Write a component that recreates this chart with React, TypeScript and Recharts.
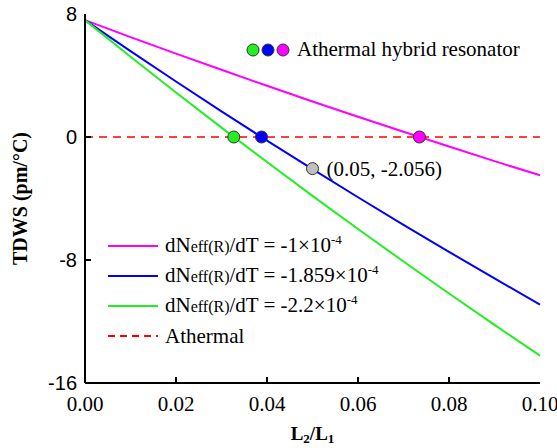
import React from 'react';
import {
  ComposedChart, Line, Scatter, XAxis, YAxis, ReferenceLine, ReferenceDot, Legend, Label, Cell
} from 'recharts';

// L2/L1 sample positions
const ratioValues = [0, 0.01, 0.02, 0.03, 0.04, 0.05, 0.06, 0.07, 0.08, 0.09, 0.1];
// TDWS (pm/°C)
const magentaValues = [7.6, 6.5, 5.42, 4.37, 3.33, 2.31, 1.32, 0.34, -0.62, -1.57, -2.49];
const blueValues = [7.6, 5.59, 3.61, 1.67, -0.23, -2.09, -3.92, -5.71, -7.47, -9.2, -10.9];
const greenValues = [7.6, 5.22, 2.89, 0.61, -1.63, -3.83, -5.98, -8.1, -10.18, -12.22, -14.22];

const xTicks = [0, 0.02, 0.04, 0.06, 0.08, 0.1];
const yTicks = [-16, -8, 0, 8];

const MAGENTA = '#ff00ff';
const BLUE = '#0000ff';
const GREEN = '#22ee22';
const RED = '#ff0000';

// athermal points where each curve crosses zero
const athermalX = [0.0327, 0.0388, 0.0735];
const athermalY = [0, 0, 0];
const athermalColors = [GREEN, BLUE, MAGENTA];

const markedX = 0.05;
const markedY = -2.056;

const legendRows = [
  { color: MAGENTA, value: '-1', dashed: false },
  { color: BLUE, value: '-1.859', dashed: false },
  { color: GREEN, value: '-2.2', dashed: false },
  { color: RED, value: 'Athermal', dashed: true },
];

const data = ratioValues.map((x, i) => ({
  x,
  magenta: magentaValues[i],
  blue: blueValues[i],
  green: greenValues[i],
}));

const athermalData = athermalX.map((x, i) => ({ x, y: athermalY[i] }));

const SERIF = '"Liberation Serif", "Times New Roman", serif';
const SANS = '"Liberation Sans", Arial, sans-serif';

const XTick = (props: any) => {
  const { x, y, payload } = props;
  const v = payload.value;
  const inner = v > 0.001 && v < 0.099;
  return (
    <g>
      {inner && <line x1={x} x2={x} y1={y} y2={y - 6} stroke="#000" strokeWidth={2} />}
      <text x={x} y={y + 28} textAnchor="middle" fontFamily={SERIF} fontSize={21} fill="#000">
        {v.toFixed(2)}
      </text>
    </g>
  );
};

const YTick = (props: any) => {
  const { x, y, payload } = props;
  const v = payload.value;
  const inner = v > -16 && v < 8;
  return (
    <g>
      {inner && <line x1={x} x2={x + 6} y1={y} y2={y} stroke="#000" strokeWidth={2} />}
      <text x={x - 8} y={y + 7} textAnchor="end" fontFamily={SANS} fontSize={20} fill="#000">
        {v}
      </text>
    </g>
  );
};

const renderLegend = () => (
  <div style={{ fontFamily: SERIF, fontSize: 21, color: '#000', lineHeight: '30px' }}>
    {legendRows.map((row, i) => (
      <div key={i} style={{ display: 'flex', alignItems: 'center', height: 30, whiteSpace: 'nowrap' }}>
        <svg width={52} height={10} style={{ marginRight: 5 }}>
          <line
            x1={0} x2={50} y1={5} y2={5}
            stroke={row.color} strokeWidth={2}
            strokeDasharray={row.dashed ? '7 5' : undefined}
          />
        </svg>
        {row.dashed ? (
          <span>{row.value}</span>
        ) : (
          <span>
            dN<span style={{ fontSize: 16 }}>eff(R)</span>/dT = {row.value}×10
            <sup style={{ fontSize: 13, verticalAlign: 'top', position: 'relative', top: -5 }}>-4</sup>
          </span>
        )}
      </div>
    ))}
  </div>
);

const XTitle = (props: any) => {
  const { viewBox } = props;
  const cx = viewBox.x + viewBox.width / 2;
  return (
    <text x={cx} y={440} textAnchor="middle" fontFamily={SERIF} fontSize={19} fontWeight="bold" fill="#000">
      L<tspan fontSize={13} dy={3}>2</tspan>
      <tspan dy={-3}>/L</tspan>
      <tspan fontSize={13} dy={3}>1</tspan>
    </text>
  );
};

const dotShape = (props: any) => {
  const { cx, cy, fill } = props;
  return <circle cx={cx} cy={cy} r={6} fill={fill} stroke="#333" strokeWidth={1} />;
};

export default function App() {
  return (
    <div style={{ position: 'absolute', left: 0, top: 0, width: 557, height: 448, background: '#fff' }}>
      <ComposedChart
        width={557}
        height={448}
        data={data}
        margin={{ top: 14, right: 17, bottom: 0, left: 0 }}
      >
        <XAxis
          dataKey="x"
          type="number"
          domain={[0, 0.1]}
          ticks={xTicks}
          axisLine={{ stroke: '#000', strokeWidth: 2 }}
          tickLine={false}
          tickSize={0}
          tickMargin={0}
          tick={<XTick />}
          height={65}
          interval={0}
        >
          <Label content={<XTitle />} />
        </XAxis>
        <XAxis
          xAxisId="top"
          orientation="top"
          type="number"
          domain={[0, 0.1]}
          axisLine={{ stroke: '#000', strokeWidth: 2 }}
          tick={false}
          tickLine={false}
          height={0}
        />
        <YAxis
          type="number"
          domain={[-16, 8]}
          ticks={yTicks}
          axisLine={{ stroke: '#000', strokeWidth: 2 }}
          tickLine={false}
          tickSize={0}
          tickMargin={0}
          tick={<YTick />}
          width={85}
          interval={0}
        >
          <Label
            value="TDWS (pm/°C)"
            angle={-90}
            position="insideLeft"
            offset={20}
            style={{ textAnchor: 'middle', fontFamily: SERIF, fontSize: 20, fontWeight: 'bold', fill: '#000' }}
          />
        </YAxis>
        <YAxis
          yAxisId="right"
          orientation="right"
          type="number"
          domain={[-16, 8]}
          axisLine={{ stroke: '#000', strokeWidth: 2 }}
          tick={false}
          tickLine={false}
          width={0}
        />
        <ReferenceLine y={0} stroke={RED} strokeWidth={1.6} strokeDasharray="8 6" />
        <Line dataKey="magenta" stroke={MAGENTA} strokeWidth={2} dot={false} isAnimationActive={false} />
        <Line dataKey="blue" stroke={BLUE} strokeWidth={2} dot={false} isAnimationActive={false} />
        <Line dataKey="green" stroke={GREEN} strokeWidth={2} dot={false} isAnimationActive={false} />
        <Scatter data={athermalData} dataKey="y" shape={dotShape} isAnimationActive={false}>
          {athermalData.map((_, i) => (
            <Cell key={i} fill={athermalColors[i]} />
          ))}
        </Scatter>
        <ReferenceDot
          x={markedX}
          y={markedY}
          r={6}
          fill="#c0c0c0"
          stroke="#333"
          strokeWidth={1}
          label={{
            value: '(0.05, -2.056)',
            position: 'right',
            offset: 8,
            fontFamily: SERIF,
            fontSize: 21,
            fill: '#000',
          }}
        />
        <Legend
          layout="vertical"
          align="center"
          verticalAlign="middle"
          wrapperStyle={{ left: 108, top: 231, width: 'auto' }}
          content={renderLegend}
        />
      </ComposedChart>
      <div
        style={{
          position: 'absolute', left: 246, top: 37, display: 'flex', alignItems: 'center',
          fontFamily: SERIF, fontSize: 21, color: '#000', whiteSpace: 'nowrap',
        }}
      >
        {athermalColors.map((c, i) => (
          <svg key={i} width={15} height={14}>
            <circle cx={7} cy={7} r={6} fill={c} stroke="#333" strokeWidth={1} />
          </svg>
        ))}
        <span style={{ marginLeft: 6 }}>Athermal hybrid resonator</span>
      </div>
    </div>
  );
}
